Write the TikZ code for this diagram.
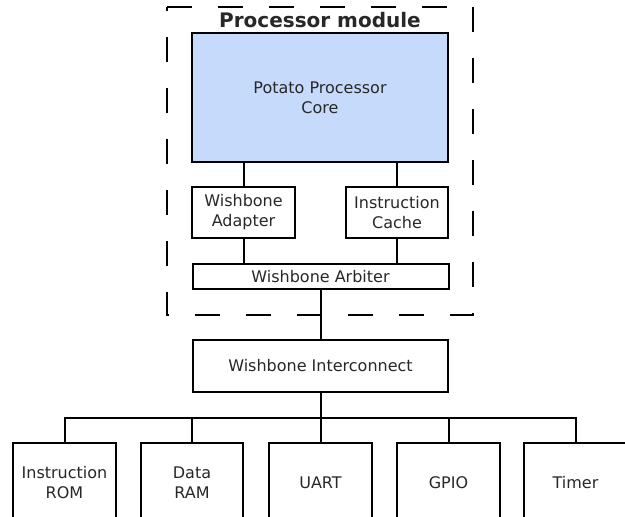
\documentclass[tikz,border=0pt]{standalone}
\usepackage{fontspec}
\setmainfont{DejaVu Sans}
\definecolor{coreblue}{RGB}{198,218,252}
\definecolor{txt}{RGB}{40,40,40}
\begin{document}
\begin{tikzpicture}[x=1pt,y=-1pt,
  box/.style={draw, line width=2pt, inner sep=0pt, align=center, text=txt, font=\fontsize{16}{20}\selectfont},
  wire/.style={line width=2pt},
  frame/.style={line width=2pt, dash pattern=on 25pt off 26pt}]
\clip (0,0) rectangle (625,517);
\fill[white] (0,0) rectangle (625,517);
% dashed module frame
\draw[frame] (167,7) -- (473,7) -- (473,315) -- (167,315) -- cycle;
\node[font=\bfseries\fontsize{20}{24}\selectfont, text=txt, inner sep=0pt] (title) at (320,20) {Processor module};
% processor module
\node[box, fill=coreblue, minimum width=256pt, minimum height=129pt] (core) at (320,97.5) {Potato Processor\\Core};
\node[box, minimum width=103pt, minimum height=51pt] (adapter) at (243.5,212.5) {Wishbone\\Adapter};
\node[box, minimum width=102pt, minimum height=51pt] (cache) at (397,212.5) {Instruction\\Cache};
\node[box, minimum width=256pt, minimum height=25pt] (arbiter) at (320.5,276.5) {Wishbone Arbiter};
% interconnect
\node[box, minimum width=255pt, minimum height=52pt] (inter) at (320.5,366) {Wishbone Interconnect};
% peripherals
\node[box, minimum width=103pt, minimum height=80pt] (rom) at (64.5,483) {Instruction\\ROM};
\node[box, minimum width=102pt, minimum height=80pt] (ram) at (192,483) {Data\\RAM};
\node[box, minimum width=103pt, minimum height=80pt] (uart) at (320.5,483) {UART};
\node[box, minimum width=103pt, minimum height=80pt] (gpio) at (448.5,483) {GPIO};
\node[box, minimum width=103pt, minimum height=80pt] (timer) at (575.5,483) {Timer};
% connectors
\draw[wire] (adapter.north) -- (adapter.north |- core.south);
\draw[wire] (cache.north) -- (cache.north |- core.south);
\draw[wire] (adapter.south) -- (adapter.south |- arbiter.north);
\draw[wire] (cache.south) -- (cache.south |- arbiter.north);
\draw[wire] (arbiter.south) -- (inter.north);
\coordinate (bus) at (320.5,418);
\draw[wire] (inter.south) -- (bus);
\draw[wire] (rom.north) |- (bus) -| (timer.north);
\draw[wire] (ram.north) -- (ram.north |- bus);
\draw[wire] (uart.north) -- (uart.north |- bus);
\draw[wire] (gpio.north) -- (gpio.north |- bus);
\end{tikzpicture}
\end{document}
